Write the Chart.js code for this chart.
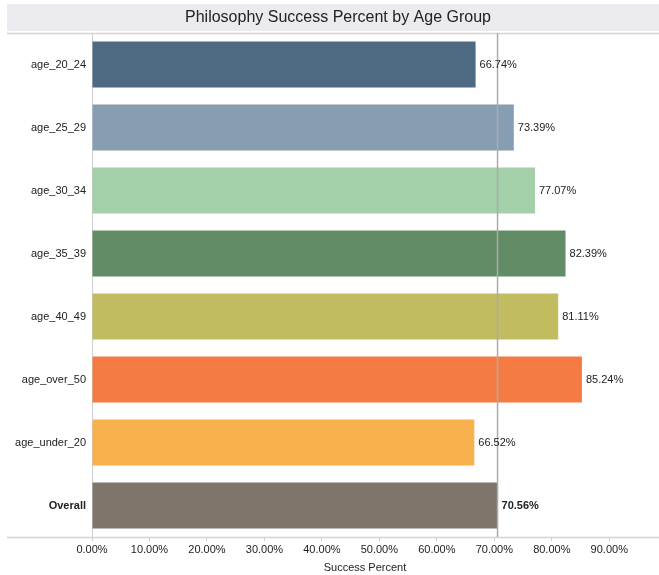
<!DOCTYPE html>
<html lang="en">
<head>
    <meta charset="UTF-8">
    <title>Philosophy Success Percent by Age Group</title>
    <script src="https://cdn.jsdelivr.net/npm/chart.js"></script>
    <style>
        html, body { margin: 0; padding: 0; background: #fff; }
        #wrap { width: 659px; height: 575px; position: relative; }
    </style>
</head>
<body>
    <div id="wrap"><canvas id="chart" width="659" height="575"></canvas></div>

    <script>
        // Data
        const ageGroups = ['age_20_24', 'age_25_29', 'age_30_34', 'age_35_39', 'age_40_49', 'age_over_50', 'age_under_20', 'Overall'];
        const successPercent = [66.74, 73.39, 77.07, 82.39, 81.11, 85.24, 66.52, 70.56];
        const barColors = ['#4e6a83', '#879eb2', '#a3cfa9', '#628c66', '#c1bc60', '#f57b44', '#f9b14e', '#7e756b'];
        const xTickValues = [0, 10, 20, 30, 40, 50, 60, 70, 80, 90];
        const overallValue = successPercent[ageGroups.indexOf('Overall')];

        const FONT = "'Liberation Sans', Arial, Helvetica, sans-serif";
        const fmt = v => v.toFixed(2) + '%';

        // title band + frame lines + overall reference line
        const framePlugin = {
            id: 'frame',
            beforeDraw(chart) {
                const ctx = chart.ctx;
                ctx.save();
                ctx.fillStyle = '#ebebef';
                ctx.fillRect(7, 4, chart.width - 7, 27);
                ctx.fillStyle = '#222';
                ctx.font = '16px ' + FONT;
                ctx.textAlign = 'center';
                ctx.textBaseline = 'middle';
                ctx.fillText('Philosophy Success Percent by Age Group', 338, 18);

                const a = chart.chartArea;
                ctx.strokeStyle = '#d4d4d4';
                ctx.lineWidth = 1.5;
                ctx.beginPath();
                ctx.moveTo(7, a.top + 0.5);
                ctx.lineTo(chart.width, a.top + 0.5);
                ctx.moveTo(7, a.bottom + 0.5);
                ctx.lineTo(chart.width, a.bottom + 0.5);
                ctx.stroke();
                ctx.restore();
            },
            afterDatasetsDraw(chart) {
                const ctx = chart.ctx;
                const a = chart.chartArea;
                const x = chart.scales.x.getPixelForValue(overallValue);
                ctx.save();
                ctx.strokeStyle = '#ababab';
                ctx.lineWidth = 1.5;
                ctx.beginPath();
                ctx.moveTo(x, a.top);
                ctx.lineTo(x, a.bottom);
                ctx.stroke();

                // value labels
                const meta = chart.getDatasetMeta(0);
                ctx.fillStyle = '#222';
                ctx.textAlign = 'left';
                ctx.textBaseline = 'middle';
                meta.data.forEach((bar, i) => {
                    const bold = ageGroups[i] === 'Overall';
                    ctx.font = (bold ? 'bold ' : '') + '11px ' + FONT;
                    ctx.fillText(fmt(successPercent[i]), bar.x + 4, bar.y);
                });
                ctx.restore();
            }
        };

        new Chart(document.getElementById('chart'), {
            type: 'bar',
            data: {
                labels: ageGroups,
                datasets: [{
                    data: successPercent,
                    backgroundColor: barColors,
                    borderWidth: 0,
                    categoryPercentage: 1,
                    barPercentage: 0.73
                }]
            },
            options: {
                indexAxis: 'y',
                responsive: false,
                animation: false,
                layout: { padding: { top: 33, left: 0, right: 21, bottom: 0 } },
                plugins: {
                    legend: { display: false },
                    tooltip: { enabled: false }
                },
                scales: {
                    x: {
                        min: 0,
                        max: 95,
                        afterBuildTicks: scale => {
                            scale.ticks = xTickValues.map(v => ({ value: v }));
                        },
                        afterFit: scale => { scale.height = 38; },
                        grid: {
                            drawOnChartArea: false,
                            drawTicks: true,
                            tickLength: 4,
                            color: '#cfcfcf'
                        },
                        border: { display: false },
                        ticks: {
                            color: '#222',
                            padding: 2,
                            maxRotation: 0,
                            autoSkip: false,
                            font: { family: FONT, size: 11 },
                            callback: v => fmt(v)
                        },
                        title: {
                            display: true,
                            text: 'Success Percent',
                            color: '#222',
                            padding: { top: 2, bottom: 0 },
                            font: { family: FONT, size: 11 }
                        }
                    },
                    y: {
                        afterFit: scale => { scale.width = 92; },
                        grid: { display: false, drawTicks: false },
                        border: { display: true, color: '#cfcfcf', width: 1 },
                        ticks: {
                            color: '#222',
                            padding: 6,
                            autoSkip: false,
                            font: ctx => ({
                                family: FONT,
                                size: 11,
                                weight: ageGroups[ctx.index] === 'Overall' ? 'bold' : 'normal'
                            })
                        }
                    }
                }
            },
            plugins: [framePlugin]
        });
    </script>
</body>
</html>
